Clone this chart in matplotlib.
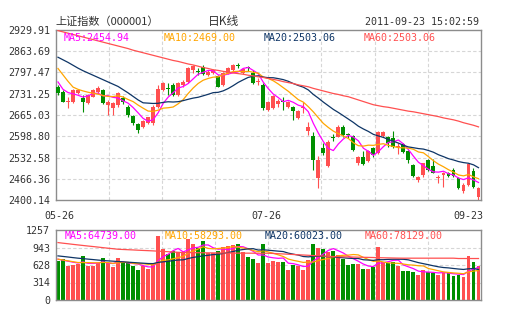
import numpy as np
import pandas as pd
import matplotlib.pyplot as plt
from matplotlib.transforms import offset_copy

plt.rcParams['font.family'] = ['DejaVu Sans Mono']

# 上证指数 日K线 2011-05-26 ~ 2011-09-23
dates = ['05-26', '07-26', '09-23']
date_pos = [0, 42, 84]

open_ = [2753, 2738, 2706, 2707, 2733, 2717, 2701, 2722, 2738, 2743,
         2696, 2686, 2696, 2717, 2691, 2662, 2637, 2627, 2639, 2639,
         2691, 2743, 2746, 2758, 2727, 2757, 2769, 2805, 2801, 2816,
         2790, 2795, 2787, 2758, 2795, 2805, 2819, 2795, 2811, 2795,
         2768, 2758, 2681, 2686, 2699, 2707, 2690, 2691, 2655, 2686,
         2616, 2600, 2468, 2561, 2506, 2594, 2598, 2627, 2603, 2600,
         2514, 2533, 2522, 2561, 2546, 2600, 2596, 2592, 2565, 2575,
         2554, 2509, 2463, 2478, 2525, 2506, 2470, 2478, 2485, 2494,
         2470, 2429, 2447, 2491, 2411]
high = [2758, 2743, 2722, 2745, 2745, 2727, 2732, 2745, 2755, 2745,
        2712, 2707, 2738, 2724, 2696, 2665, 2639, 2649, 2660, 2696,
        2758, 2769, 2764, 2764, 2769, 2774, 2814, 2821, 2810, 2821,
        2805, 2807, 2790, 2800, 2814, 2824, 2826, 2810, 2818, 2806,
        2779, 2764, 2709, 2727, 2714, 2720, 2710, 2694, 2681, 2707,
        2644, 2613, 2537, 2577, 2587, 2605, 2634, 2634, 2608, 2603,
        2537, 2554, 2556, 2566, 2615, 2615, 2600, 2616, 2577, 2579,
        2556, 2511, 2475, 2517, 2527, 2527, 2478, 2488, 2488, 2499,
        2473, 2452, 2514, 2499, 2440]
low = [2728, 2705, 2688, 2703, 2730, 2675, 2699, 2720, 2735, 2699,
       2665, 2665, 2691, 2699, 2660, 2634, 2610, 2623, 2636, 2634,
       2686, 2741, 2727, 2724, 2724, 2753, 2766, 2795, 2790, 2790,
       2787, 2792, 2751, 2755, 2793, 2803, 2810, 2793, 2803, 2761,
       2759, 2680, 2679, 2683, 2691, 2681, 2687, 2649, 2652, 2670,
       2603, 2494, 2437, 2540, 2504, 2585, 2595, 2598, 2592, 2554,
       2509, 2509, 2520, 2535, 2543, 2597, 2566, 2561, 2543, 2548,
       2516, 2473, 2457, 2473, 2489, 2483, 2454, 2440, 2473, 2473,
       2433, 2423, 2444, 2438, 2400.14]
close = [2733, 2707, 2707, 2743, 2743, 2704, 2727, 2743, 2748, 2701,
         2707, 2701, 2733, 2704, 2665, 2639, 2618, 2647, 2658, 2691,
         2745, 2764, 2745, 2727, 2764, 2769, 2810, 2818, 2800, 2792,
         2800, 2805, 2753, 2795, 2810, 2821, 2818, 2807, 2810, 2764,
         2770, 2686, 2707, 2724, 2710, 2706, 2706, 2677, 2679, 2688,
         2627, 2525, 2525, 2546, 2582, 2593, 2627, 2603, 2602, 2556,
         2535, 2512, 2554, 2540, 2613, 2613, 2577, 2566, 2567, 2551,
         2525, 2475, 2471, 2514, 2494, 2485, 2471, 2485, 2475, 2475,
         2437, 2447, 2512, 2442, 2436]

# 窗口起点之前的均线值
ma5_head = [2768, 2745, 2735, 2731]
ma10_head = [2810, 2790, 2770, 2752, 2745, 2740, 2736, 2733, 2730]
ma20_head = [2845, 2837, 2829, 2820, 2811, 2803, 2796, 2789, 2782, 2775,
             2768, 2761, 2754, 2744, 2734, 2723, 2712, 2703, 2702]
ma60 = [2928, 2924, 2920, 2916, 2912, 2908, 2904, 2900, 2896, 2892,
        2888, 2884, 2880, 2876, 2872, 2867, 2863, 2859, 2855, 2851,
        2847, 2843, 2839, 2835, 2832, 2828, 2824, 2821, 2817, 2813,
        2810, 2806, 2804, 2801, 2799, 2796, 2794, 2792, 2789, 2787,
        2784, 2782, 2779, 2776, 2773, 2769, 2766, 2763, 2759, 2756,
        2753, 2748, 2744, 2740, 2736, 2732, 2729, 2725, 2722, 2717,
        2712, 2707, 2702, 2697, 2694, 2691, 2689, 2686, 2683, 2680,
        2677, 2675, 2672, 2669, 2666, 2663, 2660, 2656, 2653, 2650,
        2646, 2641, 2637, 2633, 2628]

volume = [703, 733, 614, 631, 643, 792, 614, 602, 673, 751,
          661, 590, 751, 673, 661, 602, 542, 614, 554, 661,
          1150, 917, 822, 882, 858, 840, 1096, 1007, 929, 1060,
          852, 840, 882, 959, 971, 989, 1001, 858, 780, 739,
          661, 1007, 673, 709, 691, 691, 542, 631, 602, 542,
          721, 1007, 941, 917, 870, 882, 810, 739, 631, 649,
          649, 560, 560, 584, 959, 679, 661, 679, 602, 524,
          512, 500, 453, 542, 500, 483, 453, 483, 500, 435,
          453, 411, 792, 679, 602]
vma5_head = [733, 715, 697, 679]
vma10_head = [733, 718, 703, 688, 673, 672, 671, 669, 668]
vma20_head = [792, 782, 772, 761, 751, 743, 734, 726, 717, 709,
              703, 697, 691, 685, 679, 673, 667, 661, 655]
vma60 = [1031, 1020, 1010, 999, 989, 979, 969, 960, 950, 940,
         930, 921, 911, 907, 903, 899, 894, 890, 886, 882,
         877, 872, 867, 862, 857, 852, 851, 850, 849, 848,
         847, 846, 845, 844, 843, 842, 842, 841, 841, 840,
         840, 840, 840, 836, 831, 827, 822, 817, 812, 808,
         803, 798, 794, 789, 784, 780, 778, 776, 774, 771,
         769, 767, 765, 763, 760, 758, 756, 754, 752, 751,
         751, 751, 751, 751, 751, 751, 751, 751, 751, 751,
         745, 745, 745, 745, 745]

price_ticks = ['2400.14', '2466.36', '2532.58', '2598.80', '2665.03',
               '2731.25', '2797.47', '2863.69', '2929.91']
vol_ticks = ['0', '314', '628', '943', '1257']

price_legend = ['MA5:2454.94', 'MA10:2469.00', 'MA20:2503.06', 'MA60:2503.06']
vol_legend = ['MA5:64739.00', 'MA10:58293.00', 'MA20:60023.00', 'MA60:78129.00']

UP = '#ff5050'
DOWN = '#008f00'
MA_COLORS = ['#ff00ff', '#ffa500', '#0e3566', '#ff5050']
FRAME = '#8c8c8c'
GRID = '#d6d6d6'
TEXT = '#333333'
W, H = 505, 330


def moving_avg(values, head):
    """滚动均值, 前 len(head) 个点用给定值补齐."""
    m = pd.Series(values, dtype=float).rolling(len(head) + 1).mean().to_numpy()
    m[:len(head)] = head
    return m


def setup_axes(ax, ticks, labels):
    n = len(close)
    ax.set_xlim(-0.5, n - 0.5)
    ax.set_ylim(ticks[0], ticks[-1])
    ax.set_yticks(ticks)
    ax.set_yticklabels(labels)
    ax.set_xticks([])
    ax.tick_params(axis='y', length=0, pad=4, labelsize=7.2, labelcolor=TEXT)
    for s in ax.spines.values():
        s.set_color(FRAME)
        s.set_linewidth(1.0)
    for t in ticks[1:-1]:
        ax.axhline(t, color=GRID, lw=0.8, ls=(0, (3, 2)), zorder=0)
    for k in range(1, 8):
        ax.axvline(-0.5 + k * n / 8, color=GRID, lw=0.8, ls=(0, (3, 2)), zorder=0)


fig = plt.figure(figsize=(W / 100, H / 100), dpi=100)
ax = fig.add_axes([55.5 / W, 1 - 200 / H, 425.5 / W, 170 / H])
axv = fig.add_axes([55.5 / W, 1 - 300 / H, 425.5 / W, 70 / H])

o = np.array(open_, float)
c = np.array(close, float)
hi = np.array(high, float)
lo = np.array(low, float)
x = np.arange(len(c))
colors = np.where(c >= o, UP, DOWN)

setup_axes(ax, np.array([float(t) for t in price_ticks]), price_ticks)
setup_axes(axv, np.linspace(0, 1257, 5), vol_ticks)

# K线
ax.vlines(x, lo, hi, colors=colors, lw=0.8, zorder=2)
body = np.maximum(np.abs(c - o), 3.2)
ax.bar(x, body, bottom=np.minimum(o, c), width=0.78, color=colors, zorder=3)

price_ma = [moving_avg(c, ma5_head), moving_avg(c, ma10_head),
            moving_avg(c, ma20_head), ma60]
for ma, col in zip(price_ma, MA_COLORS):
    ax.plot(x, ma, color=col, lw=0.9, zorder=4)

# 成交量
axv.bar(x, volume, width=0.78, color=colors, zorder=2)
vol_ma = [moving_avg(volume, vma5_head), moving_avg(volume, vma10_head),
          moving_avg(volume, vma20_head), vma60]
for ma, col in zip(vol_ma, MA_COLORS):
    axv.plot(x, ma, color=col, lw=0.9, zorder=3)

# 图例文字
for k, (txt, col) in enumerate(zip(price_legend, MA_COLORS)):
    fig.text((64 + k * 100) / W, 1 - 38 / H, txt, color=col, fontsize=7.2,
             va='center', ha='left')
for k, (txt, col) in enumerate(zip(vol_legend, MA_COLORS)):
    fig.text((65 + k * 100) / W, 1 - 236 / H, txt, color=col, fontsize=7.2,
             va='center', ha='left')

# 日期
tr = ax.get_xaxis_transform()
for pos, lab, ha, dx in zip(date_pos, dates, ['center', 'center', 'right'], [1, -2, 5]):
    t = offset_copy(tr, fig=fig, x=dx, y=-16, units='dots')
    ax.text(pos, 0, lab, transform=t, ha=ha, va='center', fontsize=7.2, color=TEXT)

cjk = ['Noto Sans CJK SC', 'DejaVu Sans']
fig.text(55 / W, 1 - 22 / H, '上证指数（000001）', family=cjk, fontsize=8,
         color=TEXT, va='center', ha='left')
fig.text(208 / W, 1 - 22 / H, '日K线', family=cjk, fontsize=8.5,
         color=TEXT, va='center', ha='left')
fig.text(479 / W, 1 - 22 / H, '2011-09-23 15:02:59', fontsize=7.2,
         color=TEXT, va='center', ha='right')

fig.savefig('out.png', dpi=100, facecolor='white')
